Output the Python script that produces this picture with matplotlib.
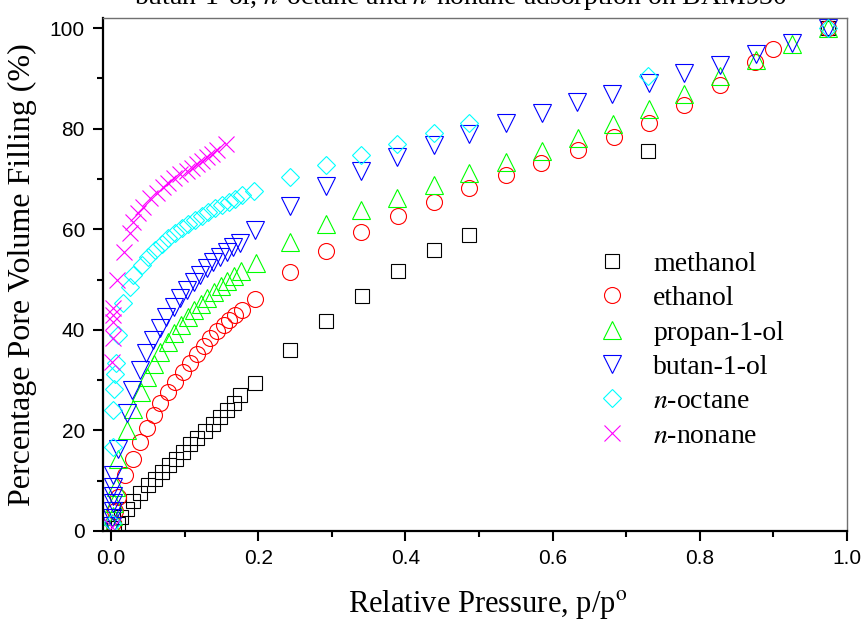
import matplotlib
matplotlib.use("Agg")
import matplotlib.pyplot as plt
from matplotlib.ticker import MultipleLocator

plt.rcParams["mathtext.fontset"] = "stix"

# relative pressure p/p0 and % pore volume filled for each adsorptive
p_methanol = [0.004, 0.009, 0.014, 0.021, 0.0295, 0.039, 0.050, 0.059, 0.069, 0.079,
              0.088, 0.098, 0.107, 0.117, 0.128, 0.138, 0.148, 0.157, 0.1664, 0.1755,
              0.195, 0.2435, 0.292, 0.341, 0.3896, 0.4385, 0.487, 0.729, 0.974]
f_methanol = [0.6, 1.4, 2.8, 4.3, 6.0, 7.6, 9.1, 10.4, 11.7, 13.1,
              14.4, 15.7, 17.2, 18.5, 19.9, 21.2, 22.6, 24.0, 25.5, 27.0,
              29.5, 35.9, 41.7, 46.8, 51.6, 55.9, 58.9, 75.5, 100.0]

p_ethanol = [0.002, 0.005, 0.010, 0.019, 0.0295, 0.0386, 0.0485, 0.0585, 0.067, 0.078,
             0.087, 0.0975, 0.107, 0.117, 0.126, 0.135, 0.144, 0.153, 0.160, 0.169,
             0.178, 0.195, 0.2435, 0.292, 0.340, 0.3896, 0.4385, 0.487, 0.536, 0.584,
             0.634, 0.683, 0.731, 0.779, 0.828, 0.875, 0.900, 0.974]
f_ethanol = [1.5, 4.0, 6.8, 11.1, 14.4, 17.7, 20.4, 23.0, 25.4, 27.7,
             29.6, 31.6, 33.5, 35.2, 36.8, 38.3, 39.7, 40.9, 41.9, 42.9,
             43.9, 46.1, 51.4, 55.7, 59.4, 62.6, 65.5, 68.2, 70.8, 73.2,
             75.8, 78.3, 81.1, 84.8, 88.7, 93.2, 95.9, 100.0]

p_propanol = [0.001, 0.002, 0.004, 0.006, 0.010, 0.021, 0.030, 0.040, 0.049, 0.058,
              0.067, 0.077, 0.086, 0.095, 0.104, 0.113, 0.122, 0.131, 0.140, 0.149,
              0.158, 0.167, 0.176, 0.197, 0.2435, 0.292, 0.340, 0.389, 0.4385, 0.487,
              0.536, 0.585, 0.634, 0.682, 0.731, 0.779, 0.828, 0.876, 0.925, 0.974]
f_propanol = [1.0, 3.0, 5.5, 8.8, 14.4, 20.0, 24.2, 27.6, 30.7, 33.3,
              35.6, 37.6, 39.4, 41.0, 42.5, 43.9, 45.2, 46.4, 47.6, 48.7,
              49.7, 50.7, 51.6, 53.3, 57.5, 61.0, 63.8, 66.2, 68.8, 71.1,
              73.4, 75.6, 78.2, 80.9, 83.9, 86.9, 90.4, 93.6, 96.9, 100.0]

p_butanol = [0.001, 0.001, 0.002, 0.002, 0.002, 0.003, 0.003, 0.010, 0.021, 0.029,
             0.039, 0.048, 0.057, 0.066, 0.075, 0.085, 0.094, 0.103, 0.112, 0.121,
             0.130, 0.139, 0.148, 0.157, 0.166, 0.175, 0.195, 0.2435, 0.292, 0.340,
             0.389, 0.4385, 0.487, 0.536, 0.585, 0.633, 0.681, 0.731, 0.779, 0.828,
             0.876, 0.925, 0.974]
f_butanol = [1.0, 2.5, 4.0, 5.5, 7.0, 8.8, 11.1, 16.4, 23.4, 28.0,
             32.0, 35.3, 38.0, 40.4, 42.6, 44.6, 46.4, 48.0, 49.5, 50.9,
             52.2, 53.4, 54.5, 55.5, 56.5, 57.3, 59.8, 64.6, 68.5, 71.6,
             74.4, 76.8, 78.9, 81.1, 83.2, 85.2, 86.9, 89.0, 91.0, 92.7,
             94.8, 97.1, 100.0]

p_octane = [0.001, 0.002, 0.003, 0.004, 0.005, 0.006, 0.010, 0.0168, 0.0258, 0.030,
            0.0418, 0.0507, 0.060, 0.069, 0.078, 0.087, 0.096, 0.105, 0.114, 0.123,
            0.132, 0.1415, 0.151, 0.160, 0.169, 0.178, 0.1946, 0.2435, 0.292, 0.340,
            0.389, 0.4385, 0.487, 0.730, 0.974]
f_octane = [1.5, 16.7, 24.0, 28.3, 31.3, 33.5, 38.9, 45.3, 48.6, 50.9,
            52.9, 54.5, 55.9, 57.1, 58.2, 59.2, 60.2, 61.0, 61.8, 62.7,
            63.4, 64.2, 64.8, 65.5, 66.1, 66.8, 67.7, 70.4, 72.7, 74.8,
            77.0, 79.1, 81.2, 90.4, 100.0]

p_nonane = [0.001, 0.001, 0.002, 0.002, 0.002, 0.003, 0.0077, 0.017, 0.026, 0.030,
            0.037, 0.044, 0.053, 0.062, 0.070, 0.078, 0.086, 0.094, 0.103, 0.110,
            0.1166, 0.123, 0.130, 0.137, 0.1438, 0.1565]
f_nonane = [0.8, 33.6, 38.3, 41.6, 42.9, 44.3, 49.9, 55.5, 59.2, 61.5,
            63.2, 64.5, 66.3, 67.3, 68.3, 69.1, 70.1, 70.9, 71.6, 72.2,
            72.9, 73.6, 74.3, 75.0, 75.8, 76.9]

series = [
    (p_methanol, f_methanol, "s", "black", 9.5, "methanol"),
    (p_ethanol, f_ethanol, "o", "red", 11.5, "ethanol"),
    (p_propanol, f_propanol, "^", "#00ff00", 13, "propan-1-ol"),
    (p_butanol, f_butanol, "v", "blue", 13, "butan-1-ol"),
    (p_octane, f_octane, "D", "cyan", 9.5, "$n$-octane"),
    (p_nonane, f_nonane, "x", "magenta", 11, "$n$-nonane"),
]

fig = plt.figure(figsize=(8.62, 6.21), dpi=100)
ax = fig.add_axes([103 / 862, 1 - 531 / 621, 744 / 862, 513 / 621])

for p, f, mk, col, ms, lab in series:
    ax.plot(p, f, linestyle="none", marker=mk, markersize=ms,
            markerfacecolor="none", markeredgecolor=col, markeredgewidth=0.8,
            label=lab)

ax.set_xlim(-0.011, 1.0)
ax.set_ylim(0, 102)
ax.xaxis.set_major_locator(MultipleLocator(0.2))
ax.xaxis.set_minor_locator(MultipleLocator(0.1))
ax.yaxis.set_major_locator(MultipleLocator(20))
ax.yaxis.set_minor_locator(MultipleLocator(10))
ax.xaxis.set_major_formatter(plt.FormatStrFormatter("%.1f"))

for side in ("left", "bottom"):
    ax.spines[side].set_linewidth(1.6)
    ax.spines[side].set_color("black")
for side in ("top", "right"):
    ax.spines[side].set_linewidth(1.0)
    ax.spines[side].set_color("#707070")

ax.tick_params(which="major", direction="out", length=7, width=1.5, pad=6,
               top=False, right=False)
ax.tick_params(which="minor", direction="out", length=4, width=1.5,
               top=False, right=False)
for lbl in ax.get_xticklabels() + ax.get_yticklabels():
    lbl.set_fontfamily("Liberation Sans")
    lbl.set_fontsize(15)

ax.set_xlabel("Relative Pressure, p/p$^{\\mathrm{o}}$", family="Liberation Serif",
              fontsize=22)
ax.xaxis.set_label_coords((488 - 103) / 744, -0.111)
ax.set_ylabel("Percentage Pore Volume Filling (%)", family="Liberation Serif",
              fontsize=23, labelpad=9)

leg = ax.legend(loc="upper left", bbox_to_anchor=(0.665, 0.545), frameon=False,
                borderpad=0, borderaxespad=0, handlelength=1.0,
                handletextpad=1.0, labelspacing=0.32,
                prop={"family": "Liberation Serif", "size": 20})

fig.text(461 / 862, 1 - 3.5 / 621,
         "butan-1-ol, $n$-octane and $n$-nonane adsorption on BAM930",
         ha="center", va="baseline", family="Liberation Serif", fontsize=20)

fig.savefig("out.png", dpi=100)
